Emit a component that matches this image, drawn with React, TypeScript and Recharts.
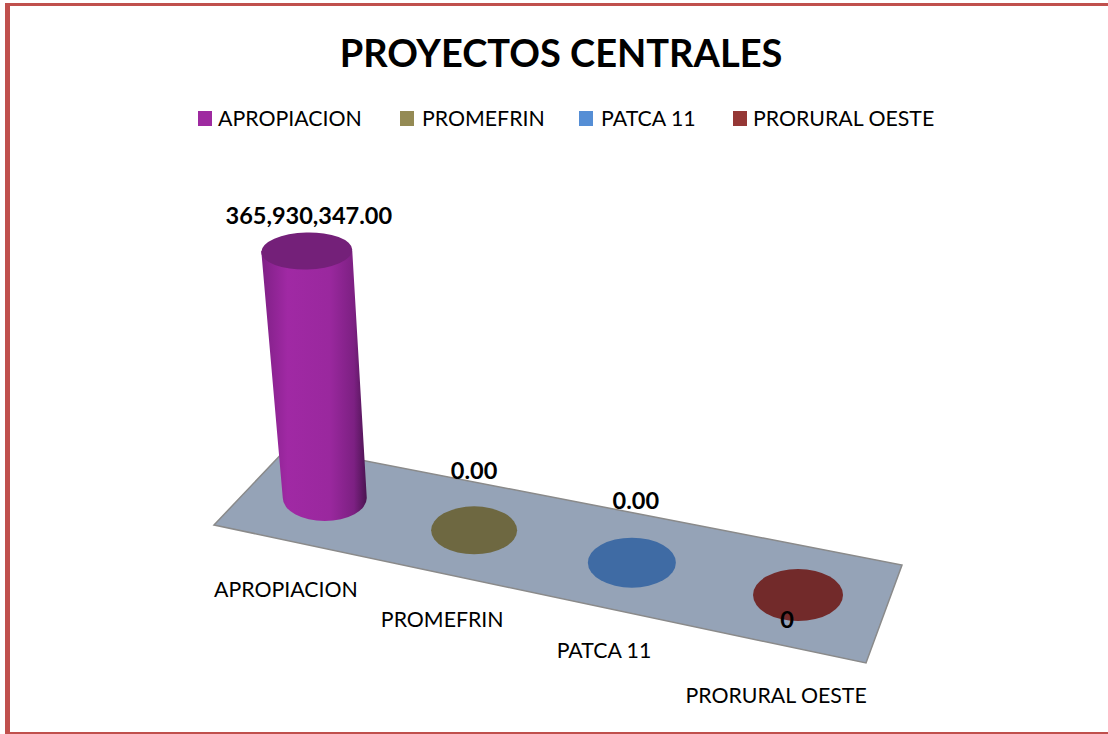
import React from 'react';
import { BarChart, Bar, XAxis, YAxis, Legend, LabelList, Customized } from 'recharts';

const CATEGORIES = ['APROPIACION', 'PROMEFRIN', 'PATCA 11', 'PRORURAL OESTE'];
const VALUES = [365930347, 0, 0, 0];
const VALUE_LABELS = ['365,930,347.00', '0.00', '0.00', '0'];

const LEGEND_COLORS = ['#9E2AA0', '#948A54', '#558ED5', '#953735'];
const CAP_COLORS = ['#742079', '#6E6841', '#3F6BA4', '#722A2A'];

const LEGEND_LEFT = [198, 400, 579, 733];
const LEGEND_GAP = [20, 22, 22, 20];
const LABEL_SHIFT = [[-16, -35], [0, -59], [4, -62], [-11, 25]];
const TICK_SHIFT = [[-39, 93], [-32, 91], [-28, 89], [-22, 102]];

const FONT = 'Lato, sans-serif';
const chartData = CATEGORIES.map((name, i) => ({ name, value: VALUES[i] }));

// fake 3d: the floor runs downhill to the right and gets a bit closer to the viewer
const project = (i: number) => {
  const t = i / 3;
  return {
    dx: 473 * 0.08 * t * (t - 1),
    dy: 97 * t,
    rx: 42 + 3 * t,
    ry: 23 + 3 * t,
  };
};

const Cylinder = (props: any) => {
  const { x, y, width, height, index } = props;
  const p = project(index);
  const cx = x + width / 2 + p.dx;
  const baseY = y + height + p.dy;

  if (!height) {
    return <ellipse cx={cx} cy={baseY} rx={p.rx} ry={p.ry} fill={CAP_COLORS[index]} />;
  }

  // top leans left and looks flatter than the base
  const topX = cx - (18 * height) / 247;
  const topY = baseY - height;
  const topRx = p.rx + 3.5;
  const topRy = p.ry - 4.5;
  const body =
    `M${cx - p.rx},${baseY} L${topX - topRx},${topY} ` +
    `L${topX + topRx},${topY} L${cx + p.rx},${baseY} ` +
    `A${p.rx},${p.ry} 0 0 1 ${cx - p.rx},${baseY} Z`;

  return (
    <g>
      <path d={body} fill="url(#cylinderBody)" />
      <ellipse
        cx={topX}
        cy={topY}
        rx={topRx}
        ry={topRy}
        fill={CAP_COLORS[index]}
        transform={`rotate(-1.5 ${topX} ${topY})`}
      />
    </g>
  );
};

const ValueLabel = (props: any) => {
  const { x, y, width, index } = props;
  const p = project(index);
  const [sx, sy] = LABEL_SHIFT[index];
  return (
    <text
      x={x + width / 2 + p.dx + sx}
      y={y + p.dy + sy - 1}
      textAnchor="middle"
      dominantBaseline="central"
      fontFamily={FONT}
      fontWeight={700}
      fontSize={23.5}
      fill="#000"
    >
      {VALUE_LABELS[index]}
    </text>
  );
};

const CategoryTick = (props: any) => {
  const { x, y, payload, index } = props;
  const p = project(index);
  const [sx, sy] = TICK_SHIFT[index];
  return (
    <text
      x={x + p.dx + sx}
      y={y - 10 + p.dy + sy}
      textAnchor="middle"
      dominantBaseline="central"
      fontFamily={FONT}
      fontSize={21.3}
      fill="#000"
    >
      {payload.value}
    </text>
  );
};

const Floor = () => (
  <polygon
    points="214,525 289,446 902,565 866,663"
    fill="#95A3B7"
    stroke="#8A8A8A"
    strokeWidth={1.5}
  />
);

const LegendRow = () => (
  <div style={{ position: 'relative', height: 0 }}>
    {CATEGORIES.map((name, i) => (
      <div key={name}>
        <div
          style={{
            position: 'absolute',
            left: LEGEND_LEFT[i],
            top: 111,
            width: 14,
            height: 15,
            background: LEGEND_COLORS[i],
          }}
        />
        <div
          style={{
            position: 'absolute',
            left: LEGEND_LEFT[i] + LEGEND_GAP[i],
            top: 104,
            fontFamily: FONT,
            fontSize: 21.3,
            lineHeight: '28px',
            whiteSpace: 'nowrap',
            color: '#000',
          }}
        >
          {name}
        </div>
      </div>
    ))}
  </div>
);

export default function App() {
  return (
    <div style={{ position: 'absolute', left: 0, top: 0, width: 1108, height: 734, background: '#fff', overflow: 'hidden' }}>
      <div style={{ position: 'absolute', left: 5, top: 3, width: 1103, height: 3, background: '#C0504D' }} />
      <div style={{ position: 'absolute', left: 5, top: 3, width: 5, height: 731, background: '#C0504D' }} />
      <div style={{ position: 'absolute', left: 5, top: 732, width: 1103, height: 2, background: '#C0504D' }} />
      <div
        style={{
          position: 'absolute',
          left: 0,
          width: 1122,
          top: 28,
          textAlign: 'center',
          fontFamily: FONT,
          fontWeight: 700,
          fontSize: 38,
          lineHeight: '48px',
          color: '#000',
        }}
      >
        PROYECTOS CENTRALES
      </div>
      <BarChart
        width={1108}
        height={734}
        data={chartData}
        margin={{ top: 251, right: 231, bottom: 176, left: 246 }}
        style={{ position: 'absolute', left: 0, top: 0 }}
      >
        <defs>
          <linearGradient id="cylinderBody" x1="0" y1="0" x2="1" y2="0">
            <stop offset="0%" stopColor="#7F2086" />
            <stop offset="25%" stopColor="#A029A4" />
            <stop offset="65%" stopColor="#9A289E" />
            <stop offset="88%" stopColor="#7C2082" />
            <stop offset="100%" stopColor="#4A1450" />
          </linearGradient>
        </defs>
        <Customized component={Floor} />
        <XAxis dataKey="name" height={60} axisLine={false} tickLine={false} tick={CategoryTick} interval={0} />
        <YAxis hide domain={[0, 365930347]} />
        <Legend
          content={LegendRow}
          wrapperStyle={{ position: 'absolute', left: 0, top: 0, bottom: 'auto', right: 'auto', width: 1108, height: 0, margin: 0, padding: 0 }}
        />
        <Bar dataKey="value" shape={Cylinder} isAnimationActive={false}>
          <LabelList dataKey="value" content={ValueLabel} />
        </Bar>
      </BarChart>
    </div>
  );
}
